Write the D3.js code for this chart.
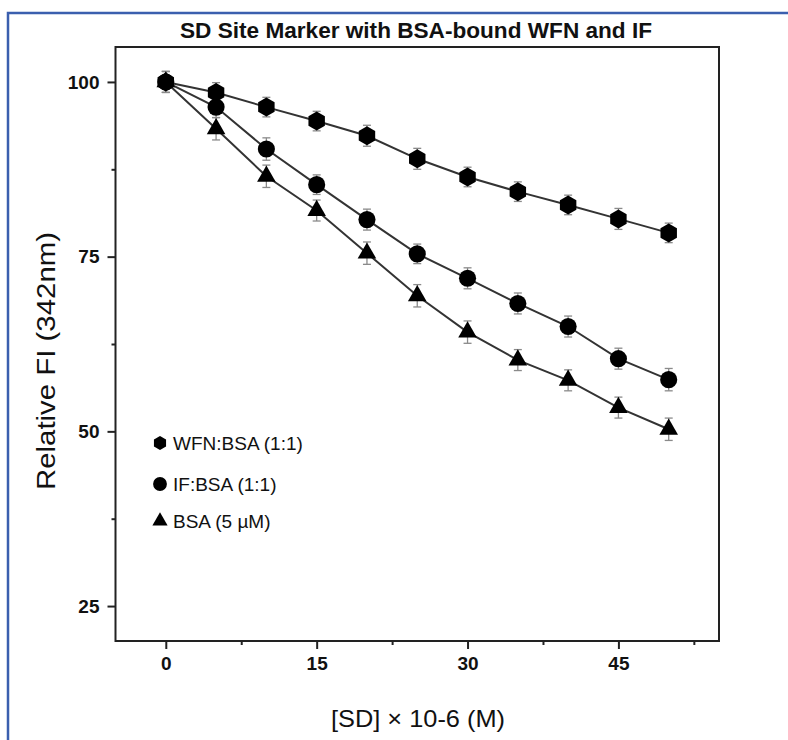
<!DOCTYPE html>
<html>
<head>
<meta charset="utf-8">
<script src="https://cdn.jsdelivr.net/npm/d3@7"></script>
<style>
  html, body { margin: 0; padding: 0; overflow: hidden; background: #fff; }
  svg { display: block; }
</style>
</head>
<body>
<svg id="chart"></svg>
<script>
// data
const concentrations = [0, 5, 10, 15, 20, 25, 30, 35, 40, 45, 50];
const wfnValues = [100, 98.5, 96.4, 94.4, 92.3, 89.0, 86.4, 84.3, 82.4, 80.4, 78.4];
const ifValues = [100, 96.4, 90.4, 85.3, 80.3, 75.4, 71.9, 68.3, 65.0, 60.4, 57.4];
const bsaValues = [100, 93.3, 86.5, 81.6, 75.5, 69.4, 64.2, 60.2, 57.3, 53.4, 50.3];
const wfnErrors = [1.5, 1.4, 1.4, 1.4, 1.5, 1.5, 1.4, 1.4, 1.4, 1.5, 1.4];
const ifErrors = [1.5, 1.5, 1.6, 1.4, 1.5, 1.4, 1.5, 1.5, 1.5, 1.5, 1.6];
const bsaErrors = [1.5, 1.6, 1.6, 1.5, 1.6, 1.6, 1.6, 1.5, 1.5, 1.5, 1.6];
const seriesNames = ["WFN:BSA (1:1)", "IF:BSA (1:1)", "BSA (5 \u00b5M)"];
const seriesShapes = ["hexagon", "circle", "triangle"];
const xTicks = [0, 15, 30, 45];
const xMinorTicks = [7.5, 22.5, 37.5, 52.5];
const yTicks = [25, 50, 75, 100];
const yMinorTicks = [37.5, 62.5, 87.5];

const width = 788;
const height = 740;
const margin = { top: 47, right: 69, bottom: 99, left: 115.5 };
const innerWidth = width - margin.left - margin.right;
const innerHeight = height - margin.top - margin.bottom;

const series = seriesNames.map((name, i) => ({
    name: name,
    shape: seriesShapes[i],
    values: [wfnValues, ifValues, bsaValues][i],
    errors: [wfnErrors, ifErrors, bsaErrors][i]
}));

const svg = d3.select("#chart")
    .attr("width", width)
    .attr("height", height);

// blue frame around the figure (only top and left sides are visible)
svg.append("path")
    .attr("d", `M8,${height}V13H${width}`)
    .attr("fill", "none")
    .attr("stroke", "#3b5fae")
    .attr("stroke-width", 2.5);

const xScale = d3.scaleLinear().domain([-5, 55]).range([0, innerWidth]);
const yScale = d3.scaleLinear().domain([20, 105]).range([innerHeight, 0]);

const g = svg.append("g")
    .attr("transform", `translate(${margin.left},${margin.top})`);

// axes
const xAxis = d3.axisBottom(xScale).tickValues(xTicks).tickSize(8).tickPadding(8).tickFormat(d3.format("d"));
const yAxis = d3.axisLeft(yScale).tickValues(yTicks).tickSize(8).tickPadding(8).tickFormat(d3.format("d"));

const xg = g.append("g")
    .attr("transform", `translate(0,${innerHeight})`)
    .call(xAxis);
xg.append("g").call(d3.axisBottom(xScale).tickValues(xMinorTicks).tickSize(4).tickFormat(""));

const yg = g.append("g").call(yAxis);
yg.append("g").call(d3.axisLeft(yScale).tickValues(yMinorTicks).tickSize(4).tickFormat(""));

g.selectAll(".domain").remove();
g.selectAll(".tick line").attr("stroke", "#222").attr("stroke-width", 2);
g.selectAll(".tick text")
    .attr("font-family", "'Liberation Sans', Arial, sans-serif")
    .attr("font-weight", "bold")
    .attr("font-size", 19)
    .attr("fill", "#111");

// plot frame
g.append("rect")
    .attr("width", innerWidth)
    .attr("height", innerHeight)
    .attr("fill", "none")
    .attr("stroke", "#222")
    .attr("stroke-width", 2);

function hexagon(r) {
    const pts = d3.range(6).map(i => {
        const a = Math.PI / 3 * i - Math.PI / 2;
        return [r * Math.cos(a), r * Math.sin(a)];
    });
    return "M" + pts.map(p => p.join(",")).join("L") + "Z";
}

function markerPath(shape) {
    if (shape === "hexagon") return hexagon(9.5);
    if (shape === "circle") return d3.symbol(d3.symbolCircle, 230)();
    return d3.symbol(d3.symbolTriangle, 150)();
}

const line = d3.line()
    .x((d, i) => xScale(concentrations[i]))
    .y(d => yScale(d));

series.forEach(s => {
    g.append("path")
        .datum(s.values)
        .attr("fill", "none")
        .attr("stroke", "#333")
        .attr("stroke-width", 2)
        .attr("d", line);
});

series.forEach(s => {
    const eb = g.append("g").attr("stroke", "#8a8a8a").attr("stroke-width", 1.3);
    s.values.forEach((v, i) => {
        const cx = xScale(concentrations[i]);
        const y1 = yScale(v + s.errors[i]);
        const y2 = yScale(v - s.errors[i]);
        eb.append("line").attr("x1", cx).attr("x2", cx).attr("y1", y1).attr("y2", y2);
        eb.append("line").attr("x1", cx - 4).attr("x2", cx + 4).attr("y1", y1).attr("y2", y1);
        eb.append("line").attr("x1", cx - 4).attr("x2", cx + 4).attr("y1", y2).attr("y2", y2);
    });
});

series.forEach(s => {
    g.selectAll(null)
        .data(s.values)
        .enter()
        .append("path")
        .attr("d", markerPath(s.shape))
        .attr("transform", (d, i) => `translate(${xScale(concentrations[i])},${yScale(d)})`)
        .attr("fill", "#000");
});

// legend
const legendRows = [443, 484, 521];
series.forEach((s, i) => {
    const lg = svg.append("g").attr("transform", `translate(160,${legendRows[i]})`);
    lg.append("path")
        .attr("d", s.shape === "hexagon" ? hexagon(7) :
            s.shape === "circle" ? d3.symbol(d3.symbolCircle, 150)() : d3.symbol(d3.symbolTriangle, 100)())
        .attr("fill", "#000");
    lg.append("text")
        .attr("x", 13)
        .attr("dy", "0.35em")
        .attr("font-family", "'Liberation Sans', Arial, sans-serif")
        .attr("font-size", 19)
        .attr("fill", "#111")
        .text(s.name);
});

// title
svg.append("text")
    .attr("x", 416)
    .attr("y", 38)
    .attr("text-anchor", "middle")
    .attr("font-family", "'Liberation Sans Narrow', 'Liberation Sans', Arial, sans-serif")
    .attr("font-weight", "bold")
    .attr("font-size", 22)
    .attr("textLength", 472)
    .attr("lengthAdjust", "spacingAndGlyphs")
    .attr("fill", "#111")
    .text("SD Site Marker with BSA-bound WFN and IF");

// axis titles
svg.append("text")
    .attr("x", 418)
    .attr("y", 727)
    .attr("text-anchor", "middle")
    .attr("font-family", "'Liberation Sans', Arial, sans-serif")
    .attr("font-size", 24)
    .attr("textLength", 174)
    .attr("lengthAdjust", "spacingAndGlyphs")
    .attr("fill", "#111")
    .text("[SD] \u00d7 10-6 (M)");

svg.append("text")
    .attr("transform", "translate(55,361) rotate(-90)")
    .attr("text-anchor", "middle")
    .attr("font-family", "'Liberation Sans', Arial, sans-serif")
    .attr("font-size", 26)
    .attr("textLength", 258)
    .attr("lengthAdjust", "spacingAndGlyphs")
    .attr("fill", "#111")
    .text("Relative FI (342nm)");
</script>
</body>
</html>
